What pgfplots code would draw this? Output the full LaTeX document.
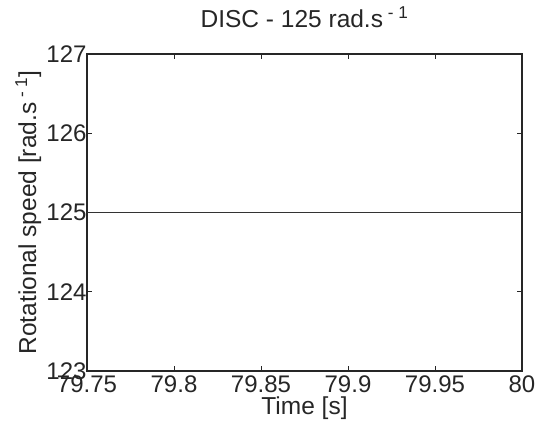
\documentclass[border=0pt]{standalone}
\usepackage{pgfplots}
\pgfplotsset{compat=1.18}
\usepackage{fontspec}
\setmainfont{Liberation Sans}
\begin{document}
\begin{tikzpicture}
\begin{axis}[
  scale only axis,
  width=435pt, height=317pt,
  xmin=79.75, xmax=80, ymin=123, ymax=127,
  xtick={79.75,79.8,79.85,79.9,79.95,80},
  xticklabels={79.75,79.8,79.85,79.9,79.95,80},
  ytick={123,124,125,126,127},
  yticklabels={123,124,125,126,127},
  tick align=inside,
  major tick length=5pt,
  axis line style={line width=1.2pt, black!85},
  every tick/.style={line width=0.8pt, black!85},
  font=\fontsize{24.5}{28}\selectfont,
  ticklabel style={font=\fontsize{24}{28}\selectfont, text=black!85},
  xticklabel style={yshift=-1pt},
  yticklabel style={xshift=3pt},
  title={DISC - 125 rad.s\textsuperscript{ - 1}},
  title style={at={(axis description cs:0.5,1.066)}, anchor=base, text=black!85},
  xlabel={Time [s]},
  xlabel style={at={(axis description cs:0.5,-0.136)}, anchor=base, text=black!85},
  ylabel={Rotational speed [rad.s\textsuperscript{ - 1}]},
  ylabel style={at={(axis description cs:-0.135,0.5)}, anchor=center, rotate=0, text=black!85},
  clip=false,
]
\addplot[line width=0.9pt, black!80] coordinates {(79.75,125) (80,125)};
\end{axis}
\pgfresetboundingbox
\path (-87pt,-54pt) rectangle (452pt,371pt);
\end{tikzpicture}
\end{document}
